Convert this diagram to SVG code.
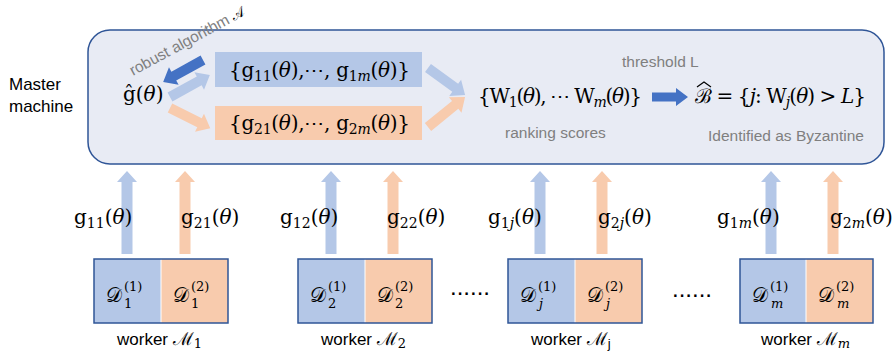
<svg xmlns="http://www.w3.org/2000/svg" width="895" height="358" viewBox="0 0 895 358">
  <style>
    .sans { font-family: "Liberation Sans", Arial, sans-serif; }
    .gray { fill: #7f7f7f; font-size: 15.5px; }
    .label { fill: #000; font-size: 17px; }
    .math { font-family: "DejaVu Serif", "Liberation Serif", serif; fill: #000; }
    .it { font-style: italic; }
    .blue { fill: #b4c7e7; }
    .orange { fill: #f8cbad; }
    .dark { fill: #4472c4; }
    .frame { stroke: #2f5597; stroke-width: 1.5; }
  </style>
  <defs>
    <!-- generic block arrow pointing along +x, tail at origin -->
    <polygon id="arrowIn" points="0,-5 33,-5 33,-10 45,0 33,10 33,5 0,5"/>
    <polygon id="arrowUp" points="-5.5,0 -5.5,-72 -10,-72 0,-83 10,-72 5.5,-72 5.5,0"/>
  </defs>

  <!-- Master machine -->
  <g id="master">
    <rect x="88" y="30" width="796" height="134" rx="22" ry="22" fill="#e8ebf4" class="frame"/>
    <text class="sans label" x="9" y="90">Master</text>
    <text class="sans label" x="9" y="112">machine</text>
  </g>

  <g id="ghat">
    <text class="math" font-size="20" x="123" y="101">ĝ(<tspan class="it">θ</tspan>)</text>
  </g>

  <g id="robust-label">
    <text class="sans gray" font-size="16" transform="translate(133,76) rotate(-28.5)">robust algorithm <tspan class="math" font-size="14" fill="#7f7f7f">𝒜</tspan></text>
  </g>

  <g id="set1">
    <rect x="215" y="52" width="207" height="35" class="blue"/>
    <text class="math" font-size="20" x="229" y="77" textLength="181">{g<tspan font-size="14" dy="4">11</tspan><tspan dy="-4">(</tspan><tspan class="it">θ</tspan>),⋯, g<tspan font-size="14" dy="4">1<tspan class="it">m</tspan></tspan><tspan dy="-4">(</tspan><tspan class="it">θ</tspan>)}</text>
  </g>

  <g id="set2">
    <rect x="215" y="106" width="207" height="34" class="orange"/>
    <text class="math" font-size="20" x="229" y="130" textLength="181">{g<tspan font-size="14" dy="4">21</tspan><tspan dy="-4">(</tspan><tspan class="it">θ</tspan>),⋯, g<tspan font-size="14" dy="4">2<tspan class="it">m</tspan></tspan><tspan dy="-4">(</tspan><tspan class="it">θ</tspan>)}</text>
  </g>

  <g id="scores">
    <text class="math" font-size="20" x="478" y="103" textLength="164">{W<tspan font-size="14" dy="4">1</tspan><tspan dy="-4">(</tspan><tspan class="it">θ</tspan>), ⋯ W<tspan font-size="14" dy="4" class="it">m</tspan><tspan dy="-4">(</tspan><tspan class="it">θ</tspan>)}</text>
    <text class="sans gray" x="505" y="138">ranking scores</text>
  </g>

  <g id="threshold">
    <text class="sans gray" x="622" y="67">threshold L</text>
  </g>

  <g id="byzantine">
    <text class="math" font-size="20" x="695" y="103" textLength="171">ℬ = {<tspan class="it">j</tspan>: W<tspan font-size="14" dy="4" class="it">j</tspan><tspan dy="-4">(</tspan><tspan class="it">θ</tspan>) &gt; <tspan class="it">L</tspan>}</text>
    <!-- wide hat over the estimated set symbol -->
    <polyline points="697,87 704,82 711,87" fill="none" stroke="#000" stroke-width="1.2"/>
    <text class="sans gray" x="708" y="141">Identified as Byzantine</text>
  </g>

  <!-- Workers -->
  <g id="worker1">
    <rect x="94" y="259" width="67" height="64" class="blue"/>
    <rect x="161" y="259" width="67" height="64" class="orange"/>
    <line x1="161" y1="259" x2="161" y2="323" stroke="#fff" stroke-width="1"/>
    <rect x="94" y="259" width="134" height="64" fill="none" class="frame"/>
    <text class="math" font-size="20" x="106" y="302">𝒟</text>
    <text class="math" font-size="13" x="124" y="291">(1)</text>
    <text class="math" font-size="13" x="124" y="308">1</text>
    <text class="math" font-size="20" x="173" y="302">𝒟</text>
    <text class="math" font-size="13" x="191" y="291">(2)</text>
    <text class="math" font-size="13" x="191" y="308">1</text>
    <text class="sans" font-size="17" x="117" y="345">worker <tspan class="math" font-size="18">ℳ</tspan><tspan class="math" font-size="13" dy="3">1</tspan></text>
  </g>

  <g id="worker2">
    <rect x="298" y="259" width="67" height="64" class="blue"/>
    <rect x="365" y="259" width="67" height="64" class="orange"/>
    <line x1="365" y1="259" x2="365" y2="323" stroke="#fff" stroke-width="1"/>
    <rect x="298" y="259" width="134" height="64" fill="none" class="frame"/>
    <text class="math" font-size="20" x="310" y="302">𝒟</text>
    <text class="math" font-size="13" x="328" y="291">(1)</text>
    <text class="math" font-size="13" x="328" y="308">2</text>
    <text class="math" font-size="20" x="377" y="302">𝒟</text>
    <text class="math" font-size="13" x="395" y="291">(2)</text>
    <text class="math" font-size="13" x="395" y="308">2</text>
    <text class="sans" font-size="17" x="321" y="345">worker <tspan class="math" font-size="18">ℳ</tspan><tspan class="math" font-size="13" dy="3">2</tspan></text>
  </g>

  <g id="workerj">
    <rect x="508" y="259" width="67" height="64" class="blue"/>
    <rect x="575" y="259" width="67" height="64" class="orange"/>
    <line x1="575" y1="259" x2="575" y2="323" stroke="#fff" stroke-width="1"/>
    <rect x="508" y="259" width="134" height="64" fill="none" class="frame"/>
    <text class="math" font-size="20" x="520" y="302">𝒟</text>
    <text class="math" font-size="13" x="538" y="291">(1)</text>
    <text class="math it" font-size="13" x="539" y="308">j</text>
    <text class="math" font-size="20" x="587" y="302">𝒟</text>
    <text class="math" font-size="13" x="605" y="291">(2)</text>
    <text class="math it" font-size="13" x="606" y="308">j</text>
    <text class="sans" font-size="17" x="531" y="345">worker <tspan class="math" font-size="18">ℳ</tspan><tspan class="sans" font-size="13" dy="3">j</tspan></text>
  </g>

  <g id="workerm">
    <rect x="740" y="259" width="66" height="64" class="blue"/>
    <rect x="806" y="259" width="67" height="64" class="orange"/>
    <line x1="806" y1="259" x2="806" y2="323" stroke="#fff" stroke-width="1"/>
    <rect x="740" y="259" width="133" height="64" fill="none" class="frame"/>
    <text class="math" font-size="20" x="752" y="302">𝒟</text>
    <text class="math" font-size="13" x="770" y="291">(1)</text>
    <text class="math it" font-size="13" x="771" y="308">m</text>
    <text class="math" font-size="20" x="818" y="302">𝒟</text>
    <text class="math" font-size="13" x="836" y="291">(2)</text>
    <text class="math it" font-size="13" x="837" y="308">m</text>
    <text class="sans" font-size="17" x="761" y="345">worker <tspan class="math" font-size="18">ℳ</tspan><tspan class="math it" font-size="13" dy="3">m</tspan></text>
  </g>

  <g id="ellipses">
    <text class="sans" font-size="24" x="450" y="295">......</text>
    <text class="sans" font-size="24" x="672" y="297">......</text>
  </g>

  <!-- Connectors -->
  <g id="connectors">
    <use href="#arrowIn" class="blue" transform="translate(170,97) rotate(-28.8) scale(1.01,1)"/>
    <use href="#arrowIn" class="orange" transform="translate(170,108) rotate(26.6)"/>
    <use href="#arrowIn" class="dark" transform="translate(203,60) rotate(151.2) scale(1.01,1)"/>
    <use href="#arrowIn" class="blue" transform="translate(428,68) rotate(36.1) scale(1.02,1)"/>
    <use href="#arrowIn" class="orange" transform="translate(428,127) rotate(-39) scale(1.06,1)"/>
    <polygon class="dark" points="652,92.5 676,92.5 676,88 688,97 676,106 676,101.5 652,101.5"/>

    <use href="#arrowUp" class="blue" x="127" y="254"/>
    <use href="#arrowUp" class="orange" x="185" y="254"/>
    <use href="#arrowUp" class="blue" x="331" y="254"/>
    <use href="#arrowUp" class="orange" x="393" y="254"/>
    <use href="#arrowUp" class="blue" x="540" y="254"/>
    <use href="#arrowUp" class="orange" x="602" y="254"/>
    <use href="#arrowUp" class="blue" x="771" y="254"/>
    <use href="#arrowUp" class="orange" x="833" y="254"/>
  </g>

  <!-- gradient labels on the upward arrows -->
  <g id="gradient-labels">
    <text class="math" font-size="20" x="74" y="224">g<tspan font-size="14" dy="4">11</tspan><tspan dy="-4">(</tspan><tspan class="it">θ</tspan>)</text>
    <text class="math" font-size="20" x="181" y="224">g<tspan font-size="14" dy="4">21</tspan><tspan dy="-4">(</tspan><tspan class="it">θ</tspan>)</text>
    <text class="math" font-size="20" x="280" y="224">g<tspan font-size="14" dy="4">12</tspan><tspan dy="-4">(</tspan><tspan class="it">θ</tspan>)</text>
    <text class="math" font-size="20" x="387" y="224">g<tspan font-size="14" dy="4">22</tspan><tspan dy="-4">(</tspan><tspan class="it">θ</tspan>)</text>
    <text class="math" font-size="20" x="488" y="224">g<tspan font-size="14" dy="4">1<tspan class="it">j</tspan></tspan><tspan dy="-4">(</tspan><tspan class="it">θ</tspan>)</text>
    <text class="math" font-size="20" x="598" y="224">g<tspan font-size="14" dy="4">2<tspan class="it">j</tspan></tspan><tspan dy="-4">(</tspan><tspan class="it">θ</tspan>)</text>
    <text class="math" font-size="20" x="717" y="224">g<tspan font-size="14" dy="4">1<tspan class="it">m</tspan></tspan><tspan dy="-4">(</tspan><tspan class="it">θ</tspan>)</text>
    <text class="math" font-size="20" x="830" y="224">g<tspan font-size="14" dy="4">2<tspan class="it">m</tspan></tspan><tspan dy="-4">(</tspan><tspan class="it">θ</tspan>)</text>
  </g>
</svg>
